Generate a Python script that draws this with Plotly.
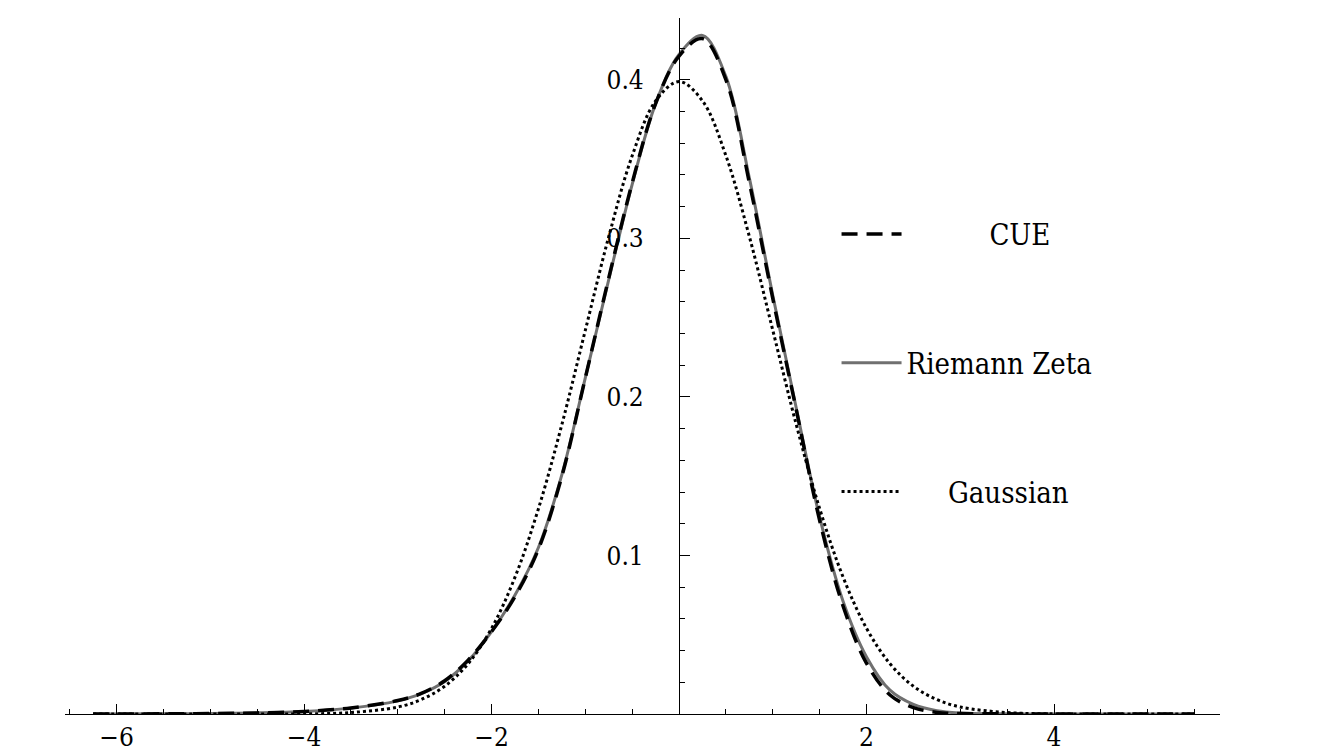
import plotly.graph_objects as go

x_grid = [-6.25, -5.5, -5.0, -4.5, -4.0, -3.5, -3.0, -2.75, -2.5, -2.25, -2.0, -1.75, -1.5, -1.25,
          -1.0, -0.75, -0.5, -0.25, 0.0, 0.25, 0.5, 0.75, 1.0, 1.25, 1.5, 1.75, 2.0, 2.25,
          2.5, 2.75, 3.0, 3.5, 4.0, 4.5, 5.0, 5.5]
cue = [0.0, 0.0001, 0.0003, 0.0007, 0.0016, 0.0038, 0.0085, 0.013, 0.021, 0.034, 0.052, 0.074,
       0.104, 0.150, 0.212, 0.275, 0.335, 0.385, 0.415, 0.426, 0.400, 0.335, 0.262, 0.192,
       0.122, 0.068, 0.032, 0.012, 0.004, 0.001, 0.0003, 0.0001, 0.0, 0.0, 0.0, 0.0]
zeta = [0.0, 0.0001, 0.0003, 0.0007, 0.0016, 0.0037, 0.0083, 0.0128, 0.0205, 0.0335, 0.052, 0.075,
        0.105, 0.151, 0.212, 0.274, 0.334, 0.385, 0.416, 0.428, 0.402, 0.338, 0.264, 0.193,
        0.124, 0.071, 0.036, 0.015, 0.006, 0.002, 0.0006, 0.0001, 0.0, 0.0, 0.0, 0.0]
gauss_x = [-6.25, -5.0, -4.5, -4.0, -3.5, -3.0, -2.75, -2.5, -2.25, -2.0, -1.75, -1.5, -1.25, -1.0,
           -0.75, -0.5, -0.25, 0.0, 0.25, 0.5, 0.75, 1.0, 1.25, 1.5, 1.75, 2.0, 2.25, 2.5,
           2.75, 3.0, 3.5, 4.0, 4.5, 5.0, 5.5]
gauss = [0.0, 0.0, 0.00002, 0.0001, 0.0009, 0.0044, 0.0091, 0.0175, 0.0317, 0.054, 0.0863,
         0.1295, 0.1826, 0.242, 0.3011, 0.3521, 0.3867, 0.3989, 0.3867, 0.3521, 0.3011, 0.242,
         0.1826, 0.1295, 0.0863, 0.054, 0.0317, 0.0175, 0.0091, 0.0044, 0.0009, 0.0001,
         0.00002, 0.0, 0.0]

xr = [-6.55, 5.77]
yr = [0, 0.439]
font = "DejaVu Serif Condensed, DejaVu Serif"

fig = go.Figure()
# zeta drawn first so the dashed CUE line sits on top
fig.add_trace(go.Scatter(x=x_grid, y=zeta, mode="lines", name="Riemann Zeta", legendgroup="b",
                         legendrank=2, line=dict(color="#707070", width=3, shape="spline")))
fig.add_trace(go.Scatter(x=x_grid, y=cue, mode="lines", name="          CUE", legendgroup="a",
                         legendrank=1,
                         line=dict(color="black", width=3.5, dash="16px,9px", shape="spline")))
fig.add_trace(go.Scatter(x=gauss_x, y=gauss, mode="lines", name="     Gaussian", legendgroup="c",
                         legendrank=3,
                         line=dict(color="black", width=3, dash="dot", shape="spline")))

fig.update_layout(
    width=1334, height=750, plot_bgcolor="white", paper_bgcolor="white",
    margin=dict(l=57, r=122, t=10, b=44, autoexpand=False),
    font=dict(family=font, size=26, color="black"),
    legend=dict(x=0.668, y=0.726, xanchor="left", yanchor="top", tracegroupgap=88,
                font=dict(size=29), itemwidth=60, bgcolor="rgba(0,0,0,0)"),
    xaxis=dict(range=xr, showgrid=False, zeroline=False, showline=True, linecolor="black",
               linewidth=1.2, ticks="inside", ticklen=10, tickcolor="black", automargin=False,
               tickvals=[-6, -4, -2, 2, 4], ticktext=["−6", "−4", "−2", "2", "4"],
               ticklabelstandoff=0,
               minor=dict(ticks="inside", ticklen=5, dtick=0.5, tickcolor="black"),
               anchor="y"),
    yaxis=dict(range=yr, showgrid=False, zeroline=False, showline=True, linecolor="black",
               linewidth=1.2, ticks="inside", ticklen=10, tickcolor="black", automargin=False,
               tickvals=[0.1, 0.2, 0.3, 0.4], ticktext=["0.1", "0.2", "0.3", "0.4"],
               ticklabelstandoff=30,
               minor=dict(ticks="inside", ticklen=5, dtick=0.02, tickcolor="black"),
               anchor="free", position=(0 - xr[0]) / (xr[1] - xr[0])),
)
fig.write_html("out.html")
